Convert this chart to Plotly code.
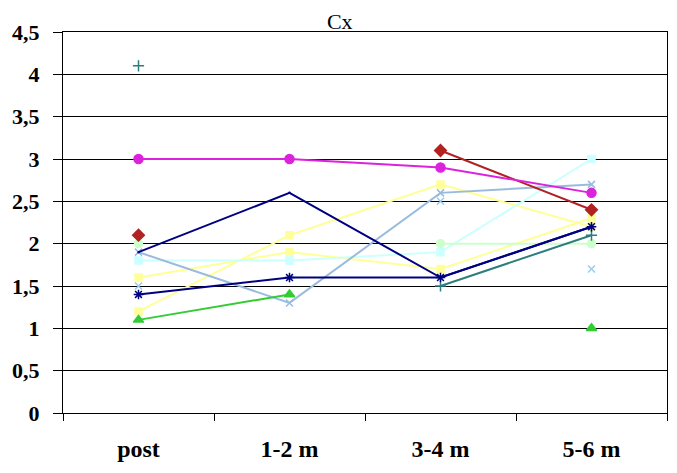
import plotly.graph_objects as go

categories = ["post", "1-2 m", "3-4 m", "5-6 m"]

s_magenta = [3.0, 3.0, 2.9, 2.6]
s_darkred = [2.1, None, 3.1, 2.4]
s_navy = [1.9, 2.6, 1.6, 2.2]
s_navy_star = [1.4, 1.6, 1.6, 2.2]
s_green = [1.1, 1.4, None, 1.0]
s_teal = [4.1, None, 1.5, 2.1]
s_steel = [1.9, 1.3, 2.6, 2.7]
s_cyan = [1.8, 1.8, 1.9, 3.0]
s_yellow1 = [1.2, 2.1, 2.7, 2.2]
s_yellow2 = [1.6, 1.9, 1.7, 2.3]
s_lgreen = [2.0, None, 2.0, 2.0]
s_sky = [1.5, None, 2.5, 1.7]

y_ticks = [0, 0.5, 1, 1.5, 2, 2.5, 3, 3.5, 4, 4.5]

series = [
    (s_yellow1, "#FFFF99", "square", 7, "lines+markers"),
    (s_yellow2, "#FFFF99", "square", 7, "lines+markers"),
    (s_cyan, "#CCFFFF", "square", 7, "lines+markers"),
    (s_lgreen, "#CCFFCC", "circle", 8, "lines+markers"),
    (s_sky, "#99CCEE", "x-thin-open", 7, "markers"),
    (s_steel, "#99BBDD", "x-thin-open", 7, "lines+markers"),
    (s_teal, "#2E7D7D", "cross-thin-open", 8, "lines+markers"),
    (s_green, "#33CC33", "triangle-up", 9, "lines+markers"),
    (s_navy_star, "#000080", "asterisk-open", 8, "lines+markers"),
    (s_navy, "#000080", "circle", 1, "lines+markers"),
    (s_darkred, "#B22222", "diamond", 9, "lines+markers"),
    (s_magenta, "#DD22DD", "circle", 9, "lines+markers"),
]

fig = go.Figure()
for vals, col, sym, size, mode in series:
    fig.add_trace(go.Scatter(
        x=categories, y=vals, mode=mode,
        line=dict(color=col, width=2),
        marker=dict(symbol=sym, size=size, color=col, line=dict(color=col, width=1.5)),
        connectgaps=False, showlegend=False,
    ))

fig.update_layout(
    width=677, height=473,
    margin=dict(l=55, r=18, t=24, b=68),
    paper_bgcolor="white", plot_bgcolor="white",
    separators=",.",
    title=dict(text="Cx", x=0.49, xanchor="center", y=0.971, yanchor="middle",
               font=dict(family="Liberation Serif", size=22, color="black")),
    font=dict(family="Liberation Serif", color="black"),
)
fig.update_xaxes(
    type="category", range=[-0.5, 3.5], automargin=False,
    showline=True, linecolor="black", linewidth=1, mirror=True,
    ticks="outside", tickson="boundaries", ticklen=7, tickcolor="black",
    ticklabelstandoff=14,
    showgrid=False,
    tickfont=dict(family="Liberation Serif", size=24, color="black", weight="bold"),
)
fig.update_yaxes(
    range=[0, 4.5], tickvals=y_ticks, automargin=False,
    showline=True, linecolor="black", linewidth=1, mirror=True,
    ticks="outside", ticklen=9, tickcolor="black",
    ticklabelstandoff=9,
    showgrid=True, gridcolor="black", gridwidth=1,
    zeroline=False,
    tickfont=dict(family="Liberation Serif", size=22, color="black", weight="bold"),
)

fig.write_html("out.html")
